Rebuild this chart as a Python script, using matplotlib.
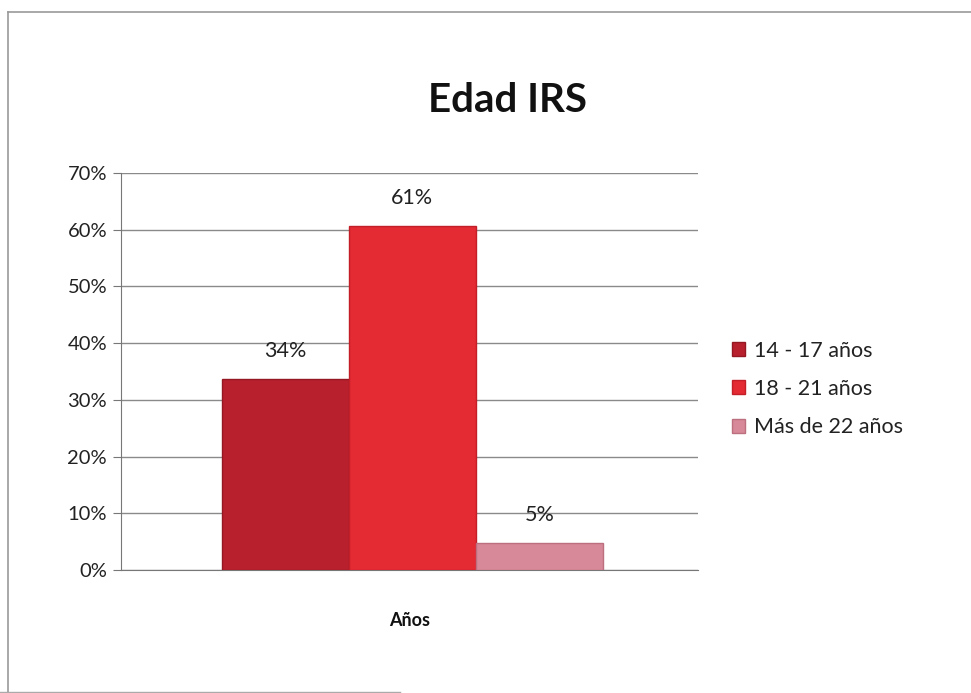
import matplotlib.pyplot as plt
from matplotlib.lines import Line2D

plt.rcParams["font.family"] = ["Lato", "DejaVu Sans"]

series = ["14 - 17 años", "18 - 21 años", "Más de 22 años"]
values = [0.337, 0.607, 0.048]
labels = ["34%", "61%", "5%"]
category = "Años"
yticks = [0.0, 0.1, 0.2, 0.3, 0.4, 0.5, 0.6, 0.7]

COLORS = ["#B8202E", "#E42A33", "#D7899A"]
EDGES = ["#951722", "#C21F28", "#BC6F7F"]

fig = plt.figure(figsize=(9.71, 6.93), dpi=100)
fig.patch.set_facecolor("white")
ax = fig.add_axes([0.1246, 0.1775, 0.5942, 0.5729])

offsets = [-1, 0, 1]
for off, v, lab, c, ec, name in zip(offsets, values, labels, COLORS, EDGES, series):
    ax.bar(off, v, width=1.0, color=c, edgecolor=ec, linewidth=1.0, zorder=3, label=name)
    ax.text(off, v + 0.031, lab, ha="center", va="bottom", fontsize=15.5, color="#222222", zorder=4)

ax.set_xlim(-2.295, 2.25)
ax.set_ylim(0, 0.7)
ax.set_yticks(yticks)
ax.set_yticklabels([f"{int(round(t * 100))}%" for t in yticks], fontsize=14.5, color="#222222")
ax.set_xticks([])
ax.set_xlabel(category, fontsize=13, fontweight="bold", color="#111111", labelpad=30)

ax.yaxis.grid(True, color="#8A8A8A", linewidth=1.0, zorder=0)
ax.set_axisbelow(True)
for side in ["top", "right"]:
    ax.spines[side].set_visible(False)
ax.spines["left"].set_color("#777777")
ax.spines["bottom"].set_color("#777777")
ax.tick_params(axis="y", length=6, color="#777777", pad=4)

fig.text(0.523, 0.855, "Edad IRS", ha="center", va="center", fontsize=29, fontweight="bold", color="#111111")

leg = ax.legend(loc="center left", bbox_to_anchor=(1.025, 0.456), frameon=False, fontsize=15.5,
                handlelength=0.62, handleheight=0.62, handletextpad=0.4, labelspacing=0.85)
for t in leg.get_texts():
    t.set_color("#222222")

# scanned page border
fig.add_artist(Line2D([8 / 971, 8 / 971], [0, 1 - 12 / 693], color="#999999", lw=1.2))
fig.add_artist(Line2D([8 / 971, 1], [1 - 12 / 693, 1 - 12 / 693], color="#999999", lw=1.2))
fig.add_artist(Line2D([0, 400 / 971], [1 / 693, 1 / 693], color="#AAAAAA", lw=1.0))

fig.savefig("out.png", dpi=100)
